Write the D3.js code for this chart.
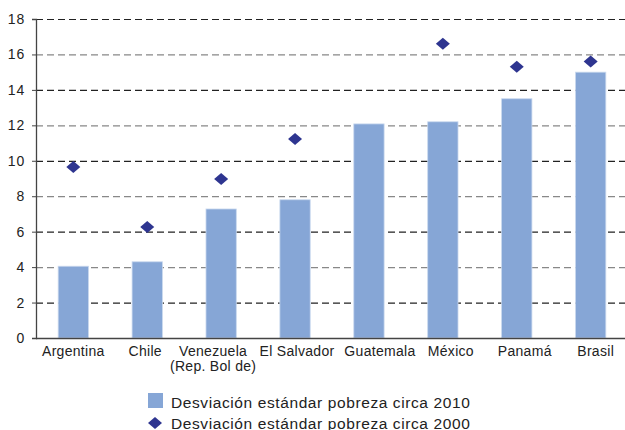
<!DOCTYPE html>
<html>
<head>
<meta charset="utf-8">
<script src="https://cdn.jsdelivr.net/npm/d3@7"></script>
<style>
  body { margin: 0; background: #fff; }
  text { font-family: "Liberation Sans", Arial, sans-serif; fill: #222; }
</style>
</head>
<body>
<script>
var width = 625,
    height = 430

var countries = ['Argentina', 'Chile', 'Venezuela|(Rep. Bol de)', 'El Salvador', 'Guatemala', 'México', 'Panamá', 'Brasil']
var sd2010 = [4.05, 4.3, 7.28, 7.8, 12.08, 12.2, 13.5, 15.0]
var sd2000 = [9.65, 6.27, 8.97, 11.23, null, 16.6, 15.3, 15.6]
var yTicks = [0, 2, 4, 6, 8, 10, 12, 14, 16, 18]
var legendLabels = ['Desviación estándar pobreza circa 2010', 'Desviación estándar pobreza circa 2000']

var margin = {top: 19, left: 36, bottom: 92}

var x = d3.scaleBand()
    .domain(countries)
    .range([margin.left, margin.left + 8 * 74])
    .paddingInner(0.59)
    .paddingOuter(0.3)

var y = d3.scaleLinear()
    .domain([0, 18])
    .range([338, margin.top])

var svg = d3.select('body').append('svg')
    .attr('width', width)
    .attr('height', height)

// grid lines
svg.append('g')
  .selectAll('line')
  .data(yTicks.filter(function(d) { return d > 0 }))
  .enter().append('line')
    .attr('x1', margin.left)
    .attr('x2', width)
    .attr('y1', function(d) { return y(d) + 0.5 })
    .attr('y2', function(d) { return y(d) + 0.5 })
    .attr('stroke', function(d) { return (d / 2) % 2 ? '#222' : '#888' })
    .attr('stroke-width', 1.2)
    .attr('stroke-dasharray', '7,4')

// bars
svg.append('g')
  .selectAll('rect')
  .data(sd2010)
  .enter().append('rect')
    .attr('x', function(d, i) { return x(countries[i]) })
    .attr('width', x.bandwidth())
    .attr('y', function(d) { return y(d) })
    .attr('height', function(d) { return y(0) - y(d) })
    .attr('fill', '#86a6d6')
    .attr('stroke', '#c9d8ee')
    .attr('stroke-width', 0.8)

// diamonds
var diamond = 'M0,-6L7,0L0,6L-7,0Z'
svg.append('g')
  .selectAll('path')
  .data(sd2000)
  .enter().filter(function(d) { return d != null })
  .append('path')
    .attr('d', diamond)
    .attr('transform', function(d, i) {
      var idx = sd2000.indexOf(d)
      return 'translate(' + (x(countries[idx]) + x.bandwidth() / 2) + ',' + y(d) + ')'
    })
    .attr('fill', '#2e3590')

// y axis
var yAxis = svg.append('g')
    .attr('transform', 'translate(' + margin.left + ',0)')
    .call(d3.axisLeft(y).tickValues(yTicks).tickSize(4).tickPadding(7))
yAxis.select('.domain').attr('stroke', '#444').attr('stroke-width', 1.3)
yAxis.selectAll('.tick line').attr('stroke', '#444')
yAxis.selectAll('text')
    .style('font-size', '14px')
    .style('letter-spacing', '0.8px')
    .attr('fill', '#222')

// x axis line
svg.append('line')
    .attr('x1', margin.left)
    .attr('x2', width)
    .attr('y1', y(0) + 0.5)
    .attr('y2', y(0) + 0.5)
    .attr('stroke', '#444')
    .attr('stroke-width', 1.3)

// x labels (small nudges like the original, where labels crowd)
var nudge = [0, -2, -8, 2, 11, 8, 8, 5]
var xl = svg.append('g')
  .selectAll('text')
  .data(countries)
  .enter().append('text')
    .attr('x', function(d, i) { return x(d) + x.bandwidth() / 2 + nudge[i] })
    .attr('y', 356)
    .attr('text-anchor', 'middle')
    .style('font-size', '14px')
    .style('letter-spacing', '0.3px')
xl.each(function(d) {
  var parts = d.split('|')
  var t = d3.select(this)
  parts.forEach(function(p, k) {
    t.append('tspan')
      .attr('x', t.attr('x'))
      .attr('dy', k ? 15 : 0)
      .text(p)
  })
})

// legend
var leg = svg.append('g')
leg.append('rect')
    .attr('x', 148).attr('y', 393)
    .attr('width', 15).attr('height', 15)
    .attr('fill', '#86a6d6')
leg.append('path')
    .attr('d', diamond)
    .attr('transform', 'translate(155,423)')
    .attr('fill', '#2e3590')
leg.selectAll('text')
  .data(legendLabels)
  .enter().append('text')
    .attr('x', 171)
    .attr('y', function(d, i) { return 408 + i * 21 })
    .style('font-size', '15.5px')
    .style('letter-spacing', '0.6px')
    .text(function(d) { return d })
</script>
</body>
</html>
